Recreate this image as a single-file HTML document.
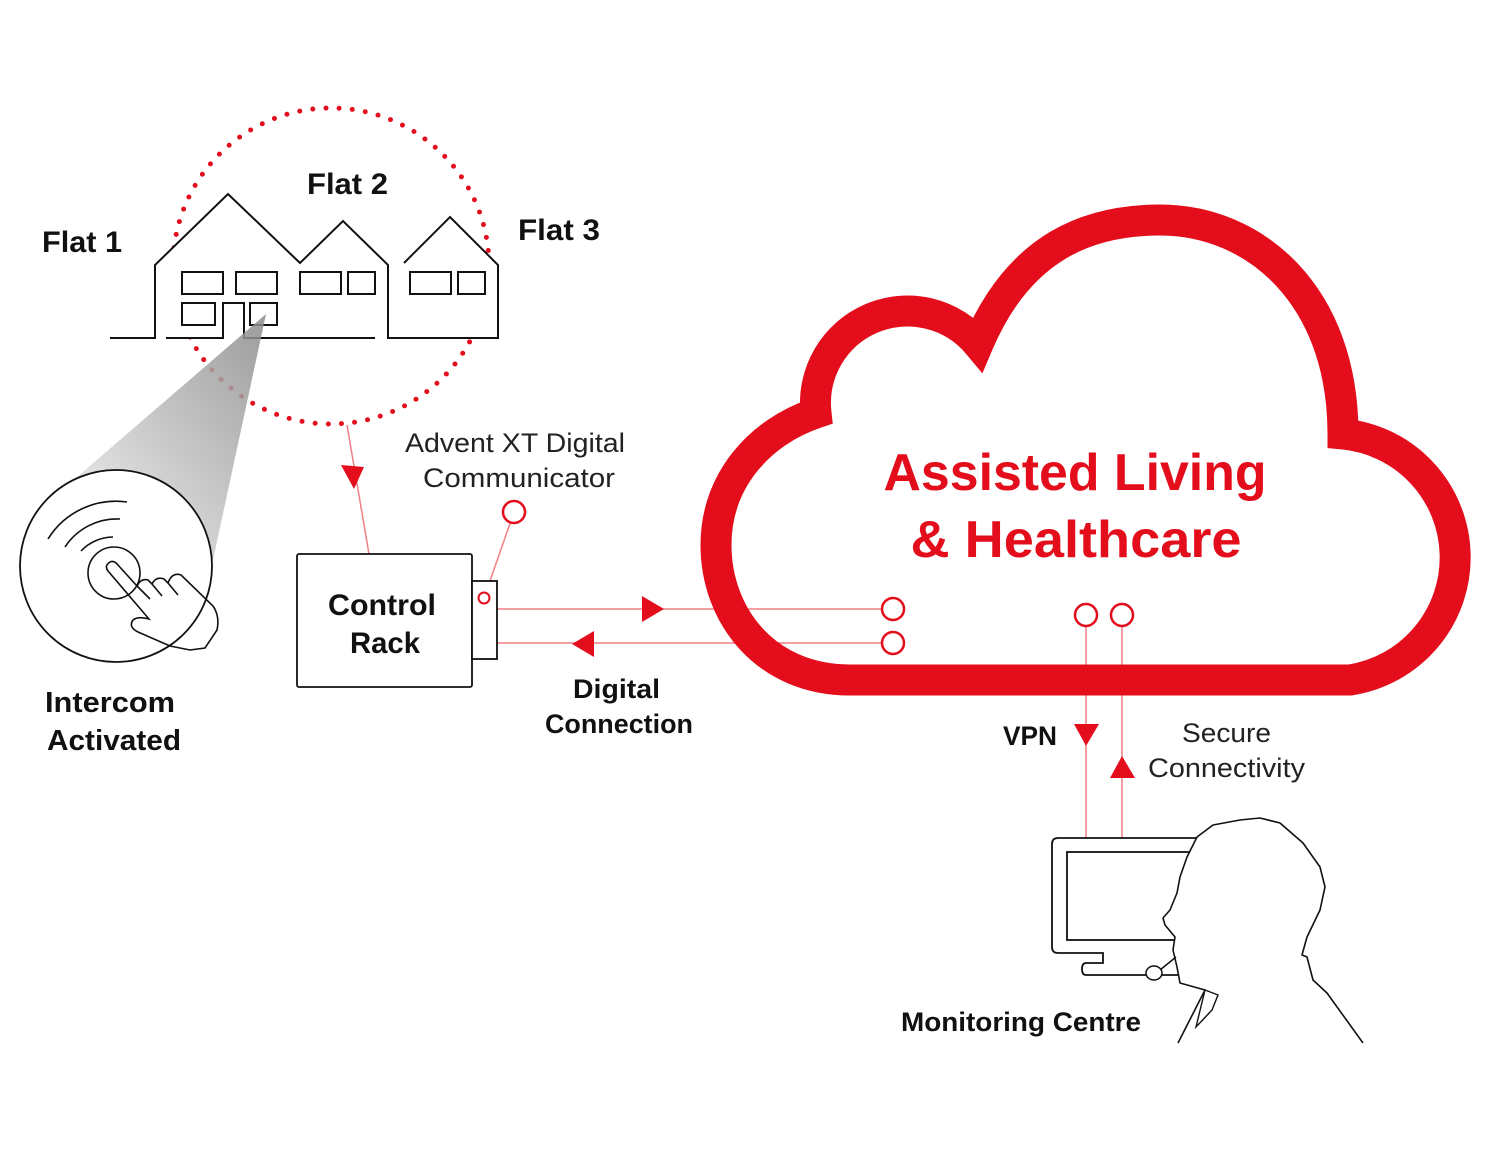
<!DOCTYPE html>
<html><head><meta charset="utf-8"><style>
html,body{margin:0;padding:0;background:#fff}
svg{display:block}
text{font-family:"Liberation Sans",sans-serif}
.b{font-weight:bold;fill:#111}
.r{fill:#222}
</style></head><body>
<svg width="1500" height="1167" viewBox="0 0 1500 1167" xmlns="http://www.w3.org/2000/svg">
<defs>
<linearGradient id="g" x1="0" y1="1" x2="1" y2="0">
<stop offset="0" stop-color="#f4f4f4"/><stop offset="1" stop-color="#8a8a8a"/>
</linearGradient>
</defs>
<circle cx="331" cy="266" r="158" fill="none" stroke="#e30d1b" stroke-width="5" stroke-dasharray="0 13.2" stroke-linecap="round"/>
<polygon points="155,338 155,265 228,194 300,263 343,221 388,265 388,338" fill="#fff"/>
<polygon points="388,338 388,265 404,263 450,217 498,265 498,338" fill="#fff"/>
<g fill="none" stroke="#111" stroke-width="2">
<polyline points="110,338 155,338 155,265 228,194 300,263 343,221 388,265 388,338 498,338 498,265 450,217 404,263"/>
<polyline points="166,338 223,338 223,303 244,303 244,338 375,338"/>
<rect x="182" y="272" width="41" height="22"/><rect x="236" y="272" width="41" height="22"/>
<rect x="300" y="272" width="41" height="22"/><rect x="348" y="272" width="27" height="22"/>
<rect x="410" y="272" width="41" height="22"/><rect x="458" y="272" width="27" height="22"/>
<rect x="182" y="303" width="33" height="22"/><rect x="250" y="303" width="27" height="22"/>
</g>
<polygon points="266,314 62,490 213,560" fill="url(#g)" opacity="0.85"/>
<circle cx="116" cy="566" r="96" fill="#fff" stroke="#111" stroke-width="1.8"/>
<g fill="none" stroke="#111" stroke-width="1.6">
<path d="M48 539 A 80 80 0 0 1 127 502"/>
<path d="M65 547 A 62 62 0 0 1 120 519"/>
<path d="M81 551 A 45 45 0 0 1 113 537"/>
<circle cx="114" cy="573" r="26"/>
<path d="M108 571 Q 104 566 110 562 Q 114 560 118 565 L 137 586 Q 141 578 148 580 L 152 584 Q 156 576 164 579 L 168 583 Q 172 572 181 575 L 213 606 Q 220 616 217 630 L 205 648 L 190 650 L 170 646 L 138 632 Q 128 627 133 620 Q 138 616 149 619 Z"/>
<path d="M137 586 L 150 599 M152 584 L 162 596 M168 583 L 178 595"/>
</g>
<g stroke="#f07f86" stroke-width="1.5" fill="none">
<line x1="347" y1="425" x2="369" y2="554"/>
<line x1="484" y1="598" x2="514" y2="512"/>
<line x1="497" y1="609" x2="882" y2="609"/>
<line x1="497" y1="643" x2="882" y2="643"/>
<line x1="1086" y1="626" x2="1086" y2="838"/>
<line x1="1122" y1="626" x2="1122" y2="838"/>
</g>
<g fill="#e30d1b">
<polygon points="341,465 364,467 354,489"/>
<polygon points="642,596 664,609 642,622"/>
<polygon points="594,631 572,644 594,657"/>
<polygon points="1074,724 1099,724 1086,746"/>
<polygon points="1110,778 1135,778 1122,756"/>
</g>
<rect x="297" y="554" width="175" height="133" rx="2" fill="#fff" stroke="#111" stroke-width="1.8"/>
<rect x="472" y="581" width="25" height="78" fill="#fff" stroke="#111" stroke-width="1.8"/>
<circle cx="484" cy="598" r="5.5" fill="#fff" stroke="#e30d1b" stroke-width="2"/>
<circle cx="514" cy="512" r="11" fill="#fff" stroke="#e30d1b" stroke-width="2.5"/>
<path d="M850 680 C 765 680 716 615 716 545 C 716 480 760 432 816 413 A 92 92 0 0 1 978 344 C 1020 245 1090 220 1160 220 C 1255 220 1343 295 1343 434 A 124 124 0 0 1 1350 680 Z" fill="none" stroke="#e30d1b" stroke-width="31" stroke-linejoin="miter"/>
<g fill="#fff" stroke="#e30d1b" stroke-width="2.5">
<circle cx="893" cy="609" r="11"/><circle cx="893" cy="643" r="11"/>
<circle cx="1086" cy="615" r="11"/><circle cx="1122" cy="615" r="11"/>
</g>
<text x="1075" y="490" text-anchor="middle" font-size="52" font-weight="bold" fill="#e30d1b" textLength="383" lengthAdjust="spacingAndGlyphs">Assisted Living</text>
<text x="1076" y="557" text-anchor="middle" font-size="52" font-weight="bold" fill="#e30d1b" textLength="331" lengthAdjust="spacingAndGlyphs">&amp; Healthcare</text>
<g fill="none" stroke="#111" stroke-width="1.8">
<path d="M1200 838 L1058 838 Q1052 838 1052 844 L1052 947 Q1052 953 1058 953 L1103 953 L1103 963 L1086 963 Q1082 963 1082 969 Q1082 975 1086 975 L1180 975"/>
<rect x="1067" y="852" width="125" height="88"/>
</g>
<path d="M1178 1043 L1205 990 L1180 983 L1177 967 L1173 950 L1175 937 L1165 925 L1163 918 L1170 910 L1177 893 L1180 877 L1187 857 L1197 837 L1213 825 L1240 820 L1260 818 L1280 823 L1303 843 L1320 867 L1325 887 L1320 910 L1307 937 L1302 955 L1307 957 L1313 980 L1327 993 L1363 1043" fill="#fff" stroke="#111" stroke-width="1.6" stroke-linejoin="round"/>
<path d="M1205 990 L1218 995 L1212 1010 L1196 1027 Z" fill="#fff" stroke="#111" stroke-width="1.4"/>
<line x1="1160" y1="970" x2="1176" y2="957" stroke="#111" stroke-width="1.5"/>
<ellipse cx="1154" cy="973" rx="8" ry="7" fill="#fff" stroke="#111" stroke-width="1.5"/>
<text class="b" x="42" y="252" font-size="30" textLength="80" lengthAdjust="spacingAndGlyphs">Flat 1</text>
<text class="b" x="307" y="194" font-size="30" textLength="81" lengthAdjust="spacingAndGlyphs">Flat 2</text>
<text class="b" x="518" y="240" font-size="30" textLength="82" lengthAdjust="spacingAndGlyphs">Flat 3</text>
<text class="r" x="405" y="452" font-size="27" textLength="220" lengthAdjust="spacingAndGlyphs">Advent XT Digital</text>
<text class="r" x="423" y="487" font-size="27" textLength="192" lengthAdjust="spacingAndGlyphs">Communicator</text>
<text class="b" x="328" y="615" font-size="30" textLength="108" lengthAdjust="spacingAndGlyphs">Control</text>
<text class="b" x="350" y="653" font-size="30" textLength="70" lengthAdjust="spacingAndGlyphs">Rack</text>
<text class="b" x="45" y="712" font-size="29" textLength="130" lengthAdjust="spacingAndGlyphs">Intercom</text>
<text class="b" x="47" y="750" font-size="29" textLength="134" lengthAdjust="spacingAndGlyphs">Activated</text>
<text class="b" x="573" y="698" font-size="27" textLength="87" lengthAdjust="spacingAndGlyphs">Digital</text>
<text class="b" x="545" y="733" font-size="27" textLength="148" lengthAdjust="spacingAndGlyphs">Connection</text>
<text class="b" x="1003" y="745" font-size="27" textLength="54" lengthAdjust="spacingAndGlyphs">VPN</text>
<text class="r" x="1182" y="742" font-size="27" textLength="89" lengthAdjust="spacingAndGlyphs">Secure</text>
<text class="r" x="1148" y="777" font-size="27" textLength="157" lengthAdjust="spacingAndGlyphs">Connectivity</text>
<text class="b" x="901" y="1031" font-size="27" textLength="240" lengthAdjust="spacingAndGlyphs">Monitoring Centre</text>
</svg>
</body></html>
